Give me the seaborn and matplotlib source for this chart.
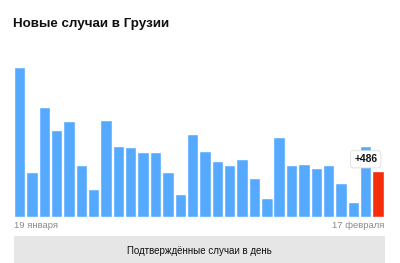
import matplotlib
matplotlib.use("Agg")
import matplotlib.pyplot as plt
import seaborn as sns
import pandas as pd
from matplotlib.patches import FancyBboxPatch

days = [f"{d} янв" for d in range(19, 32)] + [f"{d} фев" for d in range(1, 18)]
cases = [1585, 469, 1156, 916, 1015, 550, 296, 1022, 750, 733,
         680, 687, 476, 240, 871, 697, 592, 543, 610, 406,
         201, 839, 550, 557, 511, 543, 359, 159, 750, 486]
first_label = "19 января"
last_label = "17 февраля"
title = "Новые случаи в Грузии"
button = "Подтверждённые случаи в день"

sns.set_theme(style="white")
plt.rcParams['font.family'] = ['Liberation Sans', 'DejaVu Sans']

W, H = 400, 263
fig = plt.figure(figsize=(W / 100, H / 100), dpi=100)
ax = fig.add_axes([13.3 / W, (H - 216.7) / H, (384.3 - 13.3) / W, 150 / H])

df = pd.DataFrame({"day": days, "cases": cases})
colors = ["#55aaff"] * (len(days) - 1) + ["#f52d0a"]
sns.barplot(data=df, x="day", y="cases", hue="day", palette=colors,
            legend=False, width=0.92, saturation=1, ax=ax)
ax.set_xlim(-0.5, len(days) - 0.5)
ax.set_ylim(0, max(cases))
ax.axis("off")

fig.text(13 / W, 1 - 24 / H, title, fontsize=9.6, fontweight="bold",
         color="#111111", va="center", ha="left")
fig.text(13.5 / W, 1 - 225.5 / H, first_label, fontsize=6.8, color="#8a8a8a",
         va="center", ha="left")
fig.text(384.5 / W, 1 - 225.5 / H, last_label, fontsize=6.8, color="#8a8a8a",
         va="center", ha="right")

# bottom button
btn = FancyBboxPatch((13.5 / W, 0), (384.5 - 13.5) / W, (H - 236) / H,
                     boxstyle="square,pad=0", transform=fig.transFigure,
                     facecolor="#e6e6e6", edgecolor="none")
fig.patches.append(btn)
fig.text(199 / W, 1 - 250.5 / H, button, fontsize=7.0, color="#111111",
         va="center", ha="center")

# value label for last bar
ax.annotate(f"+{cases[-1]}", xy=(len(days) - 2, cases[-1]),
            xytext=(0, 8.2), textcoords="offset points",
            ha="center", va="center", fontsize=7.4, fontweight="bold", color="#111111",
            bbox=dict(boxstyle="round,pad=0.35,rounding_size=0.3", fc="white",
                      ec="#dddddd", lw=0.6))

fig.savefig("out.png", dpi=100)
